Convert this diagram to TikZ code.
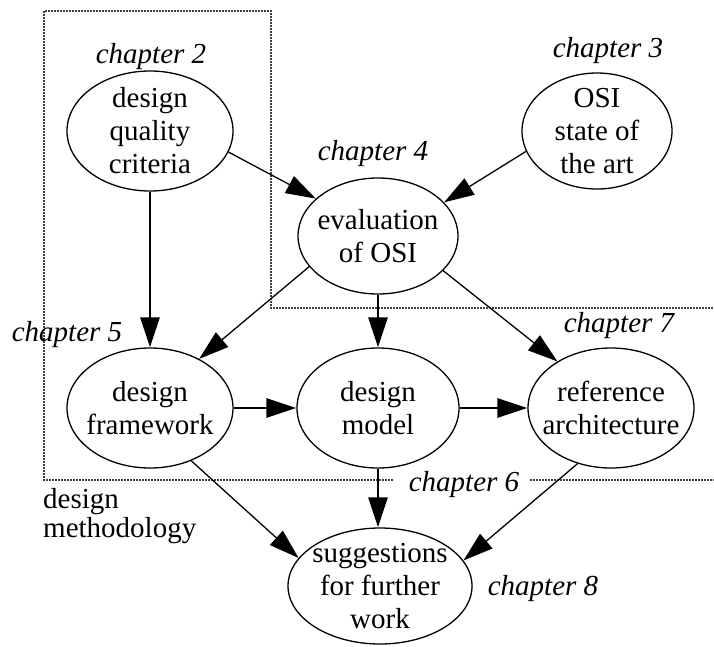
\documentclass[tikz,border=0pt]{standalone}
\usepackage{fontspec}
\setmainfont{Liberation Serif}
\usetikzlibrary{arrows.meta,shapes.geometric}

\begin{document}
\begin{tikzpicture}[x=1pt,y=-1pt,
  chap/.style={ellipse,draw,line width=1.3pt,inner xsep=-30pt,inner ysep=-25pt,align=center,
    font=\fontsize{29}{33}\selectfont},
  tag/.style={font=\fontsize{29}{33}\selectfont\itshape,anchor=base,inner sep=0pt},
  thinarrow/.style={line width=1.3pt,-{Triangle[length=30pt,width=19pt]}},
  thickarrow/.style={line width=2.8pt,-{Triangle[length=30pt,width=19pt]}},
  boundary/.style={draw=black!75,line width=2.2pt,dash pattern=on 2pt off 1pt}]
\useasboundingbox (0,0) rectangle (714,646);

% region of the design methodology
\draw[boundary] (393,480) -- (44,480) -- (44,11) -- (271,11) -- (271,308) -- (714,308);
\draw[boundary] (530,480) -- (714,480);

% chapters
\node[chap,minimum width=166pt,minimum height=120pt] (A) at (150,131) {design\\quality\\criteria};
\node[chap,minimum width=150pt,minimum height=116pt] (B) at (597,131) {OSI\\state of\\the art};
\node[chap,minimum width=160pt,minimum height=116pt] (C) at (378,236) {evaluation\\of OSI};
\node[chap,minimum width=166pt,minimum height=120pt] (D) at (150,408) {design\\framework};
\node[chap,minimum width=162pt,minimum height=120pt] (E) at (378,408) {design\\model};
\node[chap,minimum width=166pt,minimum height=120pt] (F) at (611,408) {reference\\architecture};
\node[chap,minimum width=184pt,minimum height=116pt] (G) at (380,586) {suggestions\\for further\\work};

% chapter numbers
\node[tag] (t2) at (151,63) {chapter 2};
\node[tag] (t3) at (608,57) {chapter 3};
\node[tag] (t4) at (373,160) {chapter 4};
\node[tag] (t5) at (67,341) {chapter 5};
\node[tag] (t7) at (619,332) {chapter 7};
\node[tag] (t6) at (464,491) {chapter 6};
\node[tag] (t8) at (543,595) {chapter 8};
\node[font=\fontsize{29}{29}\selectfont,align=left,anchor=north west,inner sep=0pt]
  (dm) at (43,488) {design\\methodology};

% dependencies
\draw[thickarrow] (A.south) -- (D.north);
\draw[thinarrow] (A.-15) -- (C.149);
\draw[thinarrow] (B.196) -- (C.27);
\draw[thinarrow] (C.204) -- (D.45);
\draw[thickarrow] (C.south) -- (E.north);
\draw[thinarrow] (C.-28) -- (F.139);
\draw[thickarrow] (D.east) -- (E.west);
\draw[thickarrow] (E.east) -- (F.west);
\draw[thickarrow] (E.south) -- (E.south |- G.north);
\draw[thinarrow] (D.-52) -- (G.161);
\draw[thinarrow] (F.239) -- (G.17);
\end{tikzpicture}
\end{document}
